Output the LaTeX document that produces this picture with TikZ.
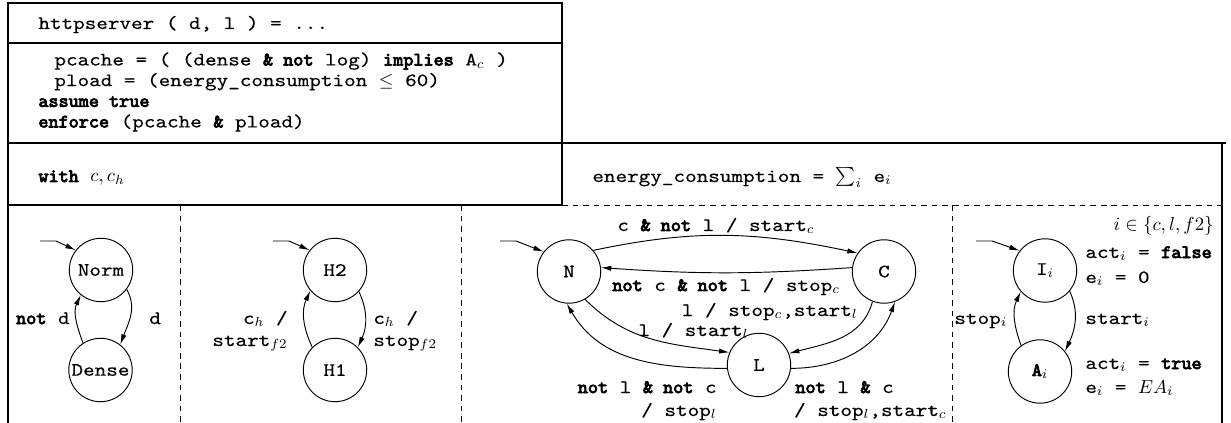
\documentclass[tikz,border=0pt]{standalone}
\usepackage{fontspec}
\usetikzlibrary{arrows.meta}
\newfontfamily\codefont{lmmono10-regular.otf}[FakeBold=0.3,FakeStretch=1.17,
  BoldFont=lmmono10-regular.otf,BoldFeatures={FakeBold=4,FakeStretch=1.02}]
\begin{document}
\begin{tikzpicture}[x=0.53pt,y=0.53pt,
  every node/.style={font=\codefont\fontsize{10pt}{10.95pt}\selectfont},
  state/.style={circle,draw,line width=0.5pt,minimum size=33.6pt,inner sep=0pt},
  arr/.style={-{Latex[length=5.5pt,width=2.8pt]},line width=0.5pt},
  frame/.style={line width=0.6pt},
  sep/.style={line width=0.5pt,dash pattern=on 3pt off 2.6pt},
  lbl/.style={inner sep=0pt,anchor=base west},
  lble/.style={inner sep=0pt,anchor=base east}]
\useasboundingbox (0,0) rectangle (1231,-423);

% frames and separators
\draw[frame] (8,-3) rectangle (562,-143);
\draw[frame] (8,-43) -- (562,-43);
\draw[frame] (8,-143) -- (1226,-143);
\draw[frame] (8,-143) -- (8,-423);
\draw[frame] (8,-205) -- (562,-205);
\draw[frame] (562,-143) -- (562,-205);
\draw[frame] (1222,-143) -- (1222,-423);
\draw[sep] (562,-205) -- (1222,-205);
\draw[sep] (180,-205) -- (180,-423);
\draw[sep] (461,-205) -- (461,-423);
\draw[sep] (952,-205) -- (952,-423);

% header and contract
\node[lbl] (sig) at (38,-29) {httpserver ( d, l ) = ...};
\node[inner sep=0pt,anchor=north west,align=left] (contract) at (38,-52) {%
  \hspace*{8.5pt}pcache = ( (dense \textbf{\& not} log) \textbf{implies} A$_c$ )\\
  \hspace*{8.5pt}pload = (energy\_consumption $\leq$ 60)\\
  \textbf{assume true}\\
  \textbf{enforce} (pcache \textbf{\&} pload)};
\node[lbl] (with) at (38,-182) {\textbf{with} $c, c_h$};
\node[lbl] (energy) at (592,-182) {energy\_consumption = $\sum_i$ e$_i$};

% automaton: density
\node[state] (Norm) at (101,-270) {Norm};
\node[state] (Dense) at (100.5,-370) {Dense};
\coordinate (Norm-in) at (40,-241);
\draw[arr] (Norm-in) -- ++(16,0) -- (Norm.142);
\draw[arr] (Norm.-37) to[out=-60,in=70] (Dense.52);
\draw[arr] (Dense.123) to[out=110,in=-115] (Norm.-129);
\node[lble] (notd) at (70,-324) {\textbf{not} d};
\node[lbl] (d) at (149,-324) {d};

% automaton: hash
\node[state] (H2) at (335,-270) {H2};
\node[state] (H1) at (335,-370) {H1};
\coordinate (H2-in) at (273,-241);
\draw[arr] (H2-in) -- ++(16,0) -- (H2.142);
\draw[arr] (H2.-42) to[out=-65,in=65] (H1.45);
\draw[arr] (H1.135) to[out=115,in=-115] (H2.-140);
\node[lble] (h1a) at (288,-324) {c$_h$ /};
\node[lble] (h1b) at (288,-346) {start$_{f2}$};
\node[lbl] (h2a) at (373,-324) {c$_h$ /};
\node[lbl] (h2b) at (373,-346) {stop$_{f2}$};

% automaton: cache / log
\node[state] (N) at (569,-271.5) {N};
\node[state] (C) at (884,-271.5) {C};
\node[state] (L) at (759,-365) {L};
\coordinate (N-in) at (500,-241);
\draw[arr] (N-in) -- ++(16,0) -- (N.142);
\draw[arr] (N.41) to[out=12,in=168] (C.145);
\draw[arr] (C.173) to[bend left=4] (N.7);
\draw[arr] (N.-60) to[out=-45,in=172] (L.157);
\draw[arr] (L.186) to[out=180,in=-60] (N.-94);
\draw[arr] (C.-111) to[out=-105,in=15] (L.21);
\draw[arr] (L.-6) to[out=0,in=-110] (C.-70);
\node[lbl] (nc) at (617,-231) {c \textbf{\& not} l / start$_c$};
\node[lbl] (cn) at (612,-291) {\textbf{not} c \textbf{\& not} l / stop$_c$};
\node[lble] (cl) at (858,-316) {l / stop$_c$,start$_l$};
\node[lbl] (nl) at (638,-336) {l / start$_l$};
\node[lble] (ln1) at (717,-393) {\textbf{not} l \textbf{\& not} c};
\node[lble] (ln2) at (717,-416) {/ stop$_l$};
\node[lbl] (lc1) at (795,-393) {\textbf{not} l \textbf{\&} c};
\node[lble] (lc2) at (947,-416) {/ stop$_l$,start$_c$};

% automaton: generic component
\node[anchor=base east,inner sep=0pt,font=\normalsize] (dom) at (1214,-231) {$i\in\{c,l,f2\}$};
\node[state] (I) at (1045,-270.5) {I$_i$};
\node[state] (A) at (1040,-371.5) {\textbf{A}$_i$};
\coordinate (I-in) at (976,-241);
\draw[arr] (I-in) -- ++(16,0) -- (I.142);
\draw[arr] (I.-40) to[out=-65,in=65] (A.39);
\draw[arr] (A.126) to[out=110,in=-115] (I.-139);
\node[lbl] (starti) at (1085,-324) {start$_i$};
\node[lbl] (stopi) at (954,-324) {stop$_i$};
\node[lbl] (ia) at (1085,-258) {act$_i$ = \textbf{false}};
\node[lbl] (ie) at (1085,-283) {e$_i$ = 0};
\node[lbl] (aa) at (1085,-369) {act$_i$ = \textbf{true}};
\node[lbl] (ae) at (1085,-393) {e$_i$ = $EA_i$};
\end{tikzpicture}
\end{document}
